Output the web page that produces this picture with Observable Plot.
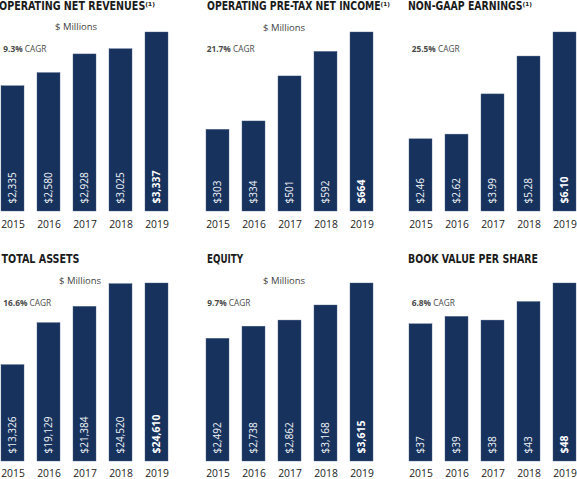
<!DOCTYPE html>
<html><head><meta charset="utf-8">
<script src="https://cdn.jsdelivr.net/npm/d3@7"></script>
<script src="https://cdn.jsdelivr.net/npm/@observablehq/plot@0.6"></script>
<style>
html,body{margin:0;padding:0;background:#fff}
#root{position:relative;width:577px;height:479px;overflow:hidden;background:#fff}
#overlay{position:absolute;left:0;top:0;pointer-events:none}
</style></head><body><div id="root"></div>
<script>
// ---- data ----
const years = ["2015", "2016", "2017", "2018", "2019"];
const revenues = [2335, 2580, 2928, 3025, 3337];
const pretaxIncome = [303, 334, 501, 592, 664];
const nonGaapEps = [2.46, 2.62, 3.99, 5.28, 6.10];
const totalAssets = [13326, 19129, 21384, 24520, 24610];
const equity = [2492, 2738, 2862, 3168, 3615];
const bookValue = [37, 39, 38, 43, 48];
const titles = ["OPERATING NET REVENUES", "OPERATING PRE-TAX NET INCOME", "NON-GAAP EARNINGS", "TOTAL ASSETS", "EQUITY", "BOOK VALUE PER SHARE"];
const footnoteMarks = ["\u207D\u00B9\u207E", "\u207D\u00B9\u207E", "\u207D\u00B9\u207E", "", "", ""];
const cagrRates = ["9.3%", "21.7%", "25.5%", "16.6%", "9.7%", "6.8%"];
const unitLabels = ["$ Millions", "$ Millions", "", "$ Millions", "$ Millions", ""];
const valueFormats = ["$,", "$,", "$.2f", "$,", "$,", "$,"];
const series = [revenues, pretaxIncome, nonGaapEps, totalAssets, equity, bookValue];

// ---- layout ----
const navy = "#17325d";
const layout = [
  {left: 0,   top: 0,   w: 190, h: 240, mt: 32, mb: 29, tp: 9, range: [-5, 175],    tx: -1,  tw: 156, ty: 9.8, ux: 55,  uy: 30,   cx: 3.3,   cy: 51.5},
  {left: 190, top: 0,   w: 190, h: 240, mt: 32, mb: 29, tp: 9, range: [9.5, 189.5], tx: 207, tw: 183, ty: 9.8, ux: 263, uy: 30.5, cx: 206.7, cy: 52},
  {left: 380, top: 0,   w: 197, h: 240, mt: 32, mb: 29, tp: 9, range: [22.5, 202.5],tx: 408, tw: 124, ty: 9.8, ux: 0,   uy: 0,    cx: 411.7, cy: 52},
  {left: 0,   top: 240, w: 190, h: 239, mt: 43, mb: 18, tp: 8, range: [-5, 175],    tx: 1.5, tw: 78,  ty: 263, ux: 59,  uy: 284,  cx: 3.3,   cy: 306},
  {left: 190, top: 240, w: 190, h: 239, mt: 43, mb: 18, tp: 8, range: [9.5, 189.5], tx: 207, tw: 36,  ty: 263, ux: 263, uy: 284,  cx: 207.3, cy: 306},
  {left: 380, top: 240, w: 197, h: 239, mt: 43, mb: 18, tp: 8, range: [22.5, 202.5],tx: 408, tw: 130, ty: 263, ux: 0,   uy: 0,    cx: 411.7, cy: 306}
];

const root = document.getElementById("root");

series.forEach((values, k) => {
  const L = layout[k];
  const fmt = d3.format(valueFormats[k]);
  const data = years.map((year, i) => ({year, value: values[i], label: fmt(values[i])}));
  const last = years.length - 1;
  const svg = Plot.plot({
    width: L.w,
    height: L.h,
    marginTop: L.mt,
    marginBottom: L.mb,
    marginLeft: 0,
    marginRight: 0,
    style: {fontFamily: "'Open Sans', sans-serif", fontSize: "10.3px", color: "#222", background: "transparent", overflow: "visible"},
    x: {type: "band", domain: years, range: L.range, paddingInner: 0.35, paddingOuter: 0.175, tickSize: 0, tickPadding: L.tp, label: null},
    y: {domain: [0, d3.max(values)], axis: null},
    marks: [
      Plot.barY(data, {x: "year", y: "value", fill: navy, stroke: "#4a6187", strokeWidth: 0.4}),
      Plot.text(data, {x: "year", text: "label", frameAnchor: "bottom", rotate: -90, textAnchor: "start", lineAnchor: "middle",
        dy: -8, fill: "#f2f4f8", fontSize: 10, filter: (d, i) => i < last}),
      Plot.text(data, {x: "year", text: "label", frameAnchor: "bottom", rotate: -90, textAnchor: "start", lineAnchor: "middle",
        dy: -8, fill: "#ffffff", fontSize: 10.5, fontWeight: "bold", filter: (d, i) => i === last})
    ]
  });
  svg.style.position = "absolute";
  svg.style.left = L.left + "px";
  svg.style.top = L.top + "px";
  root.appendChild(svg);
});

// ---- annotations (titles, units, CAGR) ----
const ov = d3.select(root).append("svg").attr("id", "overlay").attr("width", 577).attr("height", 479);
layout.forEach((L, k) => {
  ov.append("text")
    .attr("x", L.tx).attr("y", L.ty)
    .attr("textLength", L.tw).attr("lengthAdjust", "spacingAndGlyphs")
    .style("font-family", "'Liberation Sans Narrow', 'DejaVu Sans Condensed', 'Roboto', sans-serif")
    .style("font-weight", "bold").style("font-size", "11.5px").style("fill", "#1b1b1b")
    .text(titles[k] + footnoteMarks[k]);
  if (unitLabels[k]) {
    ov.append("text")
      .attr("x", L.ux).attr("y", L.uy)
      .style("font-family", "'Open Sans', sans-serif").style("font-size", "9.5px").style("fill", "#444")
      .text(unitLabels[k]);
  }
  const c = ov.append("text")
    .attr("x", L.cx).attr("y", L.cy)
    .style("font-family", "'Open Sans', sans-serif").style("font-size", "8.3px").style("fill", "#4a4a4a");
  c.append("tspan").style("font-weight", "bold").text(cagrRates[k]);
  c.append("tspan").text(" CAGR");
});
</script>
</body></html>
